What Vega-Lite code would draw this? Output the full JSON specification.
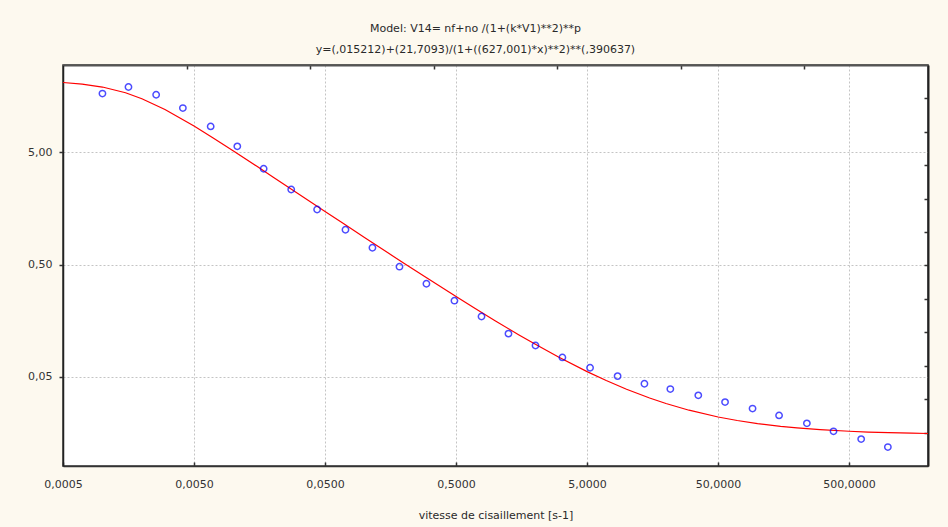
{
  "$schema": "https://vega.github.io/schema/vega-lite/v6.json",
  "width": 865,
  "height": 401,
  "autosize": {"type": "none"},
  "padding": {"left": 63, "top": 65, "right": 20, "bottom": 61},
  "background": "#FDF9EF",
  "view": {"fill": "#FFFFFF", "stroke": "#333333", "strokeWidth": 1.5},
  "title": {
    "text": ["Model: V14= nf+no /(1+(k*V1)**2)**p", "y=(,015212)+(21,7093)/(1+((627,001)*x)**2)**(,390637)"],
    "font": "DejaVu Sans",
    "fontSize": 11,
    "fontWeight": "normal",
    "color": "#2A2A2A",
    "anchor": "middle",
    "frame": "group",
    "lineHeight": 21,
    "offset": 9,
    "dx": -20
  },
  "datasets": {
    "curve": [
      {"x": 0.0005, "y": 20.944}, {"x": 0.0007, "y": 20.281}, {"x": 0.001, "y": 19.087},
      {"x": 0.0015, "y": 16.964}, {"x": 0.002, "y": 15.024}, {"x": 0.003, "y": 12.039},
      {"x": 0.005, "y": 8.576}, {"x": 0.007, "y": 6.717}, {"x": 0.01, "y": 5.138},
      {"x": 0.015, "y": 3.768}, {"x": 0.02, "y": 3.018}, {"x": 0.03, "y": 2.206},
      {"x": 0.05, "y": 1.486}, {"x": 0.07, "y": 1.146}, {"x": 0.1, "y": 0.8712},
      {"x": 0.15, "y": 0.6388}, {"x": 0.2, "y": 0.5133}, {"x": 0.3, "y": 0.3782},
      {"x": 0.5, "y": 0.2587}, {"x": 0.7, "y": 0.2024}, {"x": 1, "y": 0.1569},
      {"x": 1.5, "y": 0.1184}, {"x": 2, "y": 0.09762}, {"x": 3, "y": 0.07523},
      {"x": 5, "y": 0.05549}, {"x": 7, "y": 0.04618}, {"x": 10, "y": 0.03865},
      {"x": 15, "y": 0.03228}, {"x": 20, "y": 0.02885}, {"x": 30, "y": 0.02514},
      {"x": 50, "y": 0.02188}, {"x": 70, "y": 0.02034}, {"x": 100, "y": 0.01909},
      {"x": 150, "y": 0.01804}, {"x": 200, "y": 0.01747}, {"x": 300, "y": 0.01686},
      {"x": 500, "y": 0.01632}, {"x": 700, "y": 0.01606}, {"x": 1000, "y": 0.01585},
      {"x": 1500, "y": 0.01568}, {"x": 2000, "y": 0.01559}
    ],
    "points": [
      {"x": 0.001, "y": 16.7}, {"x": 0.00158, "y": 19.1}, {"x": 0.00257, "y": 16.3},
      {"x": 0.00411, "y": 12.4}, {"x": 0.0067, "y": 8.51}, {"x": 0.0107, "y": 5.65},
      {"x": 0.017, "y": 3.57}, {"x": 0.0276, "y": 2.33}, {"x": 0.0435, "y": 1.545},
      {"x": 0.0716, "y": 1.02}, {"x": 0.115, "y": 0.705}, {"x": 0.185, "y": 0.478},
      {"x": 0.297, "y": 0.337}, {"x": 0.486, "y": 0.238}, {"x": 0.782, "y": 0.172},
      {"x": 1.256, "y": 0.121}, {"x": 2.02, "y": 0.0949}, {"x": 3.24, "y": 0.0743},
      {"x": 5.27, "y": 0.0601}, {"x": 8.55, "y": 0.0506}, {"x": 13.7, "y": 0.0433},
      {"x": 21.6, "y": 0.0388}, {"x": 35.3, "y": 0.0341}, {"x": 56.5, "y": 0.0297},
      {"x": 91.6, "y": 0.026}, {"x": 146, "y": 0.0226}, {"x": 238, "y": 0.0192},
      {"x": 380, "y": 0.0163}, {"x": 618, "y": 0.0139}, {"x": 988, "y": 0.0118}
    ]
  },
  "layer": [
    {
      "data": {"name": "curve"},
      "mark": {"type": "line", "color": "#FF0000", "strokeWidth": 1.2, "clip": true},
      "encoding": {
        "x": {
          "field": "x", "type": "quantitative",
          "scale": {"type": "log", "domain": [0.0005, 2000], "nice": false, "zero": false},
          "axis": {
            "orient": "bottom",
            "values": [0.0005, 0.005, 0.05, 0.5, 5, 50, 500],
            "labelExpr": "replace(format(datum.value, '.4f'), '.', ',')",
            "labelFont": "DejaVu Sans", "labelFontSize": 11, "labelColor": "#333333",
            "labelFlush": false, "labelOverlap": false, "labelPadding": 16,
            "tickSize": -4, "tickColor": "#333333", "tickWidth": 1.5,
            "domainColor": "#333333", "domainWidth": 1.5,
            "grid": true, "gridColor": "#C4C4C4", "gridDash": [2, 2], "gridWidth": 1,
            "title": "vitesse de cisaillement [s-1]",
            "titleFont": "DejaVu Sans", "titleFontSize": 11, "titleFontWeight": "normal",
            "titleColor": "#2A2A2A", "titlePadding": 20
          }
        },
        "y": {
          "field": "y", "type": "quantitative",
          "scale": {"type": "log", "domain": [0.008, 30], "nice": false, "zero": false},
          "axis": {
            "orient": "left",
            "values": [0.05, 0.5, 5],
            "labelExpr": "replace(format(datum.value, '.2f'), '.', ',')",
            "labelFont": "DejaVu Sans", "labelFontSize": 11, "labelColor": "#333333",
            "labelFlush": false, "labelOverlap": false, "labelPadding": 7,
            "tickSize": 4, "tickColor": "#333333", "tickWidth": 1.5,
            "domainColor": "#222222", "domainWidth": 1.5,
            "grid": true, "gridColor": "#C4C4C4", "gridDash": [2, 2], "gridWidth": 1,
            "title": null
          }
        }
      }
    },
    {
      "data": {"name": "points"},
      "mark": {"type": "point", "shape": "circle", "filled": false, "color": "#0000FF", "size": 40, "strokeWidth": 1.5},
      "encoding": {
        "x": {
          "field": "x", "type": "quantitative",
          "axis": {
            "orient": "top",
            "values": [0.004386, 0.03847, 0.3375, 2.96, 25.97, 227.8],
            "labels": false, "grid": false, "title": null,
            "tickSize": -4, "tickColor": "#333333", "tickWidth": 1.5,
            "domainColor": "#555555", "domainWidth": 2
          }
        },
        "y": {
          "field": "y", "type": "quantitative",
          "axis": {
            "orient": "right",
            "values": [0.015887, 0.031545, 0.062634, 0.12436, 0.24692, 0.49027, 0.97262, 1.9312, 3.8338, 7.6128, 15.113],
            "labels": false, "grid": false, "title": null,
            "tickSize": -4, "tickColor": "#333333", "tickWidth": 1.5,
            "domainColor": "#222222", "domainWidth": 2
          }
        }
      }
    }
  ],
  "resolve": {"axis": {"x": "independent", "y": "independent"}}
}
